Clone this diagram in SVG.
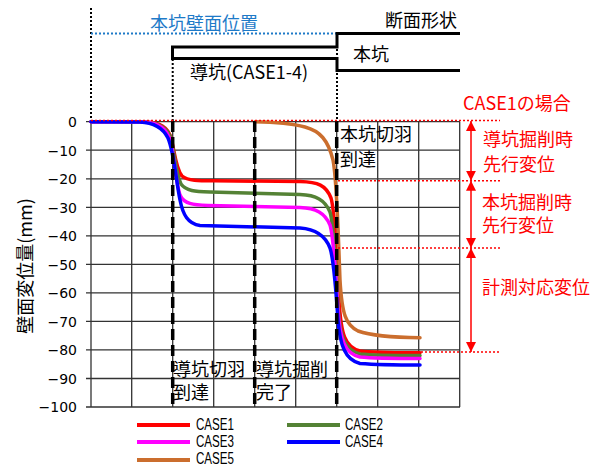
<svg xmlns="http://www.w3.org/2000/svg" width="603" height="466" viewBox="0 0 603 466">
<style>
.jp{font-family:"Noto Sans CJK JP","Liberation Sans",sans-serif;font-size:18px;fill:#000}
.red{fill:#FF0000}
.blue{fill:#1E7AC8}
.num{font-family:"DejaVu Sans","Liberation Sans",sans-serif;font-size:14px;fill:#000;text-anchor:end}
.leg{font-family:"Liberation Sans",sans-serif;font-size:16px;fill:#000}
.grid{stroke:#333;stroke-width:1.3;fill:none}
.dash{stroke:#000;stroke-width:3.5;stroke-dasharray:11 5;fill:none}
.kdot{stroke:#000;stroke-width:2;stroke-dasharray:2 2;fill:none}
.rdot{stroke:#FF0000;stroke-width:1.5;stroke-dasharray:2 2;fill:none}
.curve{fill:none;stroke-width:3.5;stroke-linecap:round;stroke-linejoin:round}
.arr{stroke:#FF0000;stroke-width:1.5;fill:none;marker-start:url(#ah);marker-end:url(#ah)}
</style>
<defs>
<marker id="ah" viewBox="0 0 10 10" refX="10" refY="5" markerWidth="10" markerHeight="10" markerUnits="userSpaceOnUse" orient="auto-start-reverse">
<path d="M0,0 L10,5 L0,10 Z" fill="#FF0000"/>
</marker>
</defs>

<g id="section">
<line class="kdot" x1="91" y1="8" x2="91" y2="121"/>
<line class="kdot" x1="172.7" y1="59" x2="172.7" y2="121"/>
<line class="kdot" x1="337" y1="45" x2="337" y2="121"/>
<line x1="91" y1="33.5" x2="336" y2="33.5" stroke="#1E7AC8" stroke-width="2" stroke-dasharray="2 2"/>
<path d="M460,33.5 H337 V47 H172.5 V58.5 H337 V70.5 H460" fill="none" stroke="#000" stroke-width="3"/>
<text class="jp blue" x="150" y="30">本坑壁面位置</text>
<text class="jp" x="385" y="27">断面形状</text>
<text class="jp" x="353" y="61">本坑</text>
<text class="jp" x="190" y="79">導坑(CASE1-4)</text>
</g>

<g id="axes">
<g class="grid">
<path d="M86,121.7H460 M86,150.2H460 M86,178.8H460 M86,207.3H460 M86,235.8H460 M86,264.4H460 M86,292.9H460 M86,321.4H460 M86,349.9H460 M86,378.5H460 M86,407H460"/>
<path d="M91,121.7V407 M131.7,121.7V407 M172.7,121.7V407 M213.7,121.7V407 M254.7,121.7V407 M295.7,121.7V407 M336.7,121.7V407 M377.7,121.7V407 M418.7,121.7V407 M459.7,121.7V407"/>
</g>
<text class="num" x="77" y="127">0</text>
<text class="num" x="77" y="155.5">−10</text>
<text class="num" x="77" y="184">−20</text>
<text class="num" x="77" y="212.5">−30</text>
<text class="num" x="77" y="241">−40</text>
<text class="num" x="77" y="269.5">−50</text>
<text class="num" x="77" y="298">−60</text>
<text class="num" x="77" y="326.5">−70</text>
<text class="num" x="77" y="355">−80</text>
<text class="num" x="77" y="383.5">−90</text>
<text class="num" x="77" y="412">−100</text>
<text class="jp" x="0" y="0" transform="translate(32,266) rotate(-90)" text-anchor="middle">壁面変位量(mm)</text>
</g>

<g id="curves">
<path class="curve" stroke="#FF0000" d="M91,121.7 L140,121.7 C155,121.7 165,124 170,135 C174,145 175,168 182,176 C188,181 200,180.8 215,180.8 L300,181.5 C318,182 326,185 331,198 C335,210 337,260 339,300 C341,335 345,347 360,351 C375,353 395,352.8 420,352.8"/>
<path class="curve" stroke="#548235" d="M91,121.7 L140,121.8 C155,122 165,125 170,136 C174,146 175,172 181,184 C186,191 195,191.5 210,192 L300,194.5 C316,195 325,200 330,212 C334,225 336,270 338,305 C340,338 345,350 360,354 C375,355.6 395,355.6 420,355.6"/>
<path class="curve" stroke="#FF00FF" d="M91,121.7 L140,121.8 C154,122 164,125 169,137 C174,149 175,180 180,195 C184,204 193,205 208,205.5 L300,207.5 C316,208 325,213 330,225 C334,238 336,280 338,310 C340,340 345,354 360,357 C375,358.5 395,358.5 420,358.5"/>
<path class="curve" stroke="#0000FF" d="M91,121.7 L140,122 C152,122.5 162,126 168,138 C174,152 176,180 180,200 C183,215 188,224 200,225.5 L300,228 C315,229 325,235 330,248 C334,260 336,290 338,320 C340,345 345,360 360,363.5 C380,365 400,365 420,365"/>
<path class="curve" stroke="#CB6E2E" d="M255,121.7 C275,122 290,123 305,127 C320,131 328,140 333,160 C337,180 338,230 340,280 C342,315 346,325 358,331 C372,336 395,337.5 420,337.7"/>
</g>

<g id="events">
<line class="dash" x1="172.7" y1="121" x2="172.7" y2="409"/>
<line class="dash" x1="254.7" y1="121" x2="254.7" y2="409"/>
<line class="dash" x1="336.7" y1="121" x2="336.7" y2="409"/>
<text class="jp"><tspan x="340" y="141">本坑切羽</tspan><tspan x="340" y="166">到達</tspan></text>
<text class="jp"><tspan x="173" y="376">導坑切羽</tspan><tspan x="173" y="399">到達</tspan></text>
<text class="jp"><tspan x="256" y="376">導坑掘削</tspan><tspan x="256" y="399">完了</tspan></text>
</g>

<g id="annotation">
<line class="rdot" x1="91" y1="120.5" x2="500" y2="120.5"/>
<line class="rdot" x1="338" y1="180.8" x2="500" y2="180.8"/>
<line class="rdot" x1="338" y1="248" x2="500" y2="248"/>
<line class="rdot" x1="421" y1="352" x2="500" y2="352"/>
<line class="arr" x1="471" y1="121" x2="471" y2="180.8"/>
<line class="arr" x1="471" y1="180.8" x2="471" y2="248"/>
<line class="arr" x1="471" y1="248" x2="471" y2="352"/>
<text class="jp red" x="463" y="110">CASE1の場合</text>
<text class="jp red"><tspan x="483" y="146">導坑掘削時</tspan><tspan x="483" y="171">先行変位</tspan></text>
<text class="jp red"><tspan x="482" y="209">本坑掘削時</tspan><tspan x="482" y="232">先行変位</tspan></text>
<text class="jp red" x="482" y="294">計測対応変位</text>
</g>

<g id="legend">
<line x1="137" y1="425" x2="190" y2="425" stroke="#FF0000" stroke-width="4"/>
<line x1="287" y1="425" x2="340" y2="425" stroke="#548235" stroke-width="4"/>
<line x1="137" y1="442" x2="190" y2="442" stroke="#FF00FF" stroke-width="4"/>
<line x1="287" y1="442" x2="340" y2="442" stroke="#0000FF" stroke-width="4"/>
<line x1="137" y1="460" x2="190" y2="460" stroke="#CB6E2E" stroke-width="4"/>
<text class="leg" x="196" y="430" textLength="38" lengthAdjust="spacingAndGlyphs">CASE1</text>
<text class="leg" x="345" y="430" textLength="38" lengthAdjust="spacingAndGlyphs">CASE2</text>
<text class="leg" x="196" y="447" textLength="38" lengthAdjust="spacingAndGlyphs">CASE3</text>
<text class="leg" x="345" y="447" textLength="38" lengthAdjust="spacingAndGlyphs">CASE4</text>
<text class="leg" x="196" y="464" textLength="38" lengthAdjust="spacingAndGlyphs">CASE5</text>
</g>
</svg>
